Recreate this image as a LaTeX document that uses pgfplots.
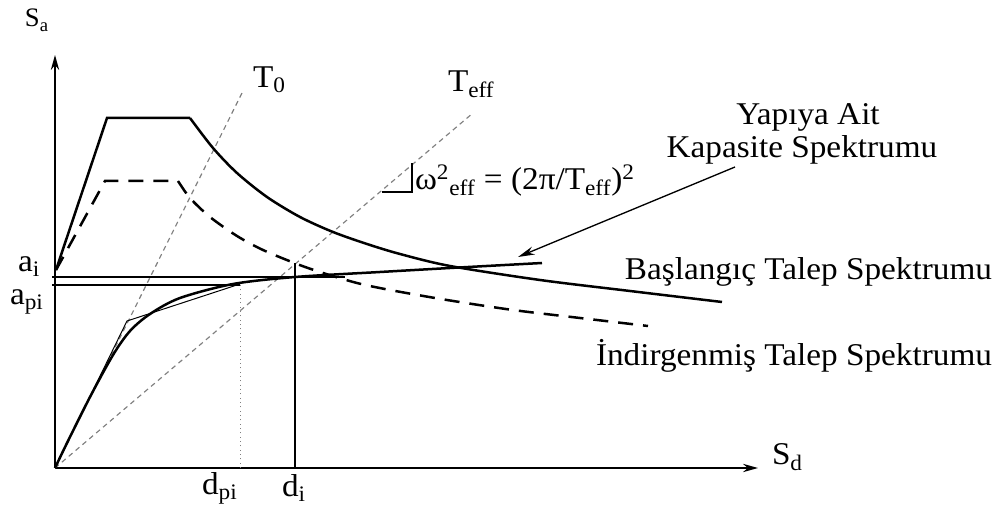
\documentclass[border=0pt]{standalone}
\usepackage{fontspec}
\setmainfont{Liberation Serif}
\usepackage{pgfplots}
\pgfplotsset{compat=1.18}
\usetikzlibrary{arrows.meta}

\begin{document}
\begin{tikzpicture}[every node/.style={inner sep=0pt, outer sep=0pt}]
\begin{axis}[
  x=0.6pt, y=0.6pt,
  xmin=0, xmax=998, ymin=0, ymax=508,
  y dir=reverse,
  hide axis, scale only axis, clip=false,
]
% page frame
\path (0,0) rectangle (998,508);

% axes
\addplot[line width=1pt, -{Stealth[length=9pt,width=5pt]}] coordinates {(55,468) (758,468)};
\addplot[line width=1pt, -{Stealth[length=9pt,width=5pt]}] coordinates {(55,468) (55,55)};

% period lines T0 and Teff
\addplot[gray, line width=0.7pt, dash pattern=on 3pt off 2.4pt] coordinates {(55,468) (242,93)};
\addplot[gray, line width=0.7pt, dash pattern=on 3pt off 2.4pt] coordinates {(55,468) (473,113)};

% initial demand spectrum (solid)
\addplot[line width=1.5pt] coordinates {(56,270) (107,118) (190,118)};
\addplot[line width=1.5pt, smooth] coordinates {
  (190,118) (213,148) (237,173) (267,197) (300,217) (333,232)
  (367,244) (400,254) (450,266) (540,280) (630,291) (722,302)};

% reduced demand spectrum (dashed)
\addplot[line width=1.5pt, dash pattern=on 9pt off 6pt] coordinates {(56,270) (105,181) (178,181)};
\addplot[line width=1.5pt, dash pattern=on 9pt off 6pt, smooth] coordinates {
  (178,181) (190,198) (210,217) (237,236) (263,250) (297,264) (323,273)
  (357,283) (390,290) (447,300) (513,310) (580,318) (648,326)};

% capacity spectrum
\addplot[line width=1.5pt, smooth] coordinates {
  (55,468) (67,443) (90,397) (113,355) (130,331) (150,314) (180,298)
  (233,284) (295,277) (380,272) (450,268) (542,263)};
% bilinear representation
\addplot[line width=0.6pt] coordinates {(55,468) (127,321) (240,284)};

% performance point guides
\addplot[line width=0.8pt] coordinates {(52,277) (345,277)};
\addplot[line width=0.8pt] coordinates {(52,285) (240,285)};
\addplot[line width=1pt] coordinates {(295,468) (295,263)};
\addplot[gray, line width=0.6pt, dotted] coordinates {(240,468) (240,284)};

% slope marker on Teff
\addplot[line width=0.7pt] coordinates {(382,192) (412,192) (412,163)};

% pointer to capacity curve
\addplot[line width=0.8pt, -{Stealth[length=10pt,width=5pt]}] coordinates {(735,167) (518,257)};

% labels
\tikzset{lbl/.style={font=\fontsize{19}{22}\selectfont, xscale=1.05}}
\node[anchor=base west, font=\fontsize{16}{18}\selectfont] at (25,27) {S\textsubscript{a}};
\node[anchor=base west, lbl] at (772,465) {S\textsubscript{d}};
\node[anchor=base west, lbl] at (253,88) {T\textsubscript{0}};
\node[anchor=base west, lbl] at (448,92) {T\textsubscript{eff}};
\node[anchor=base west, lbl] at (415,190) {ω\textsuperscript{2}\textsubscript{eff} = (2π/T\textsubscript{eff})\textsuperscript{2}};
\node[anchor=base, lbl] at (808,125) {Yapıya Ait};
\node[anchor=base, lbl] at (802,158) {Kapasite Spektrumu};
\node[anchor=base east, lbl] at (992,280) {Başlangıç Talep Spektrumu};
\node[anchor=base east, lbl] at (992,366) {İndirgenmiş Talep Spektrumu};
\node[anchor=base west, lbl] at (18,272) {a\textsubscript{i}};
\node[anchor=base west, lbl] at (10,305) {a\textsubscript{pi}};
\node[anchor=base west, lbl] at (202,495) {d\textsubscript{pi}};
\node[anchor=base west, lbl] at (282,497) {d\textsubscript{i}};
\end{axis}
\end{tikzpicture}
\end{document}
